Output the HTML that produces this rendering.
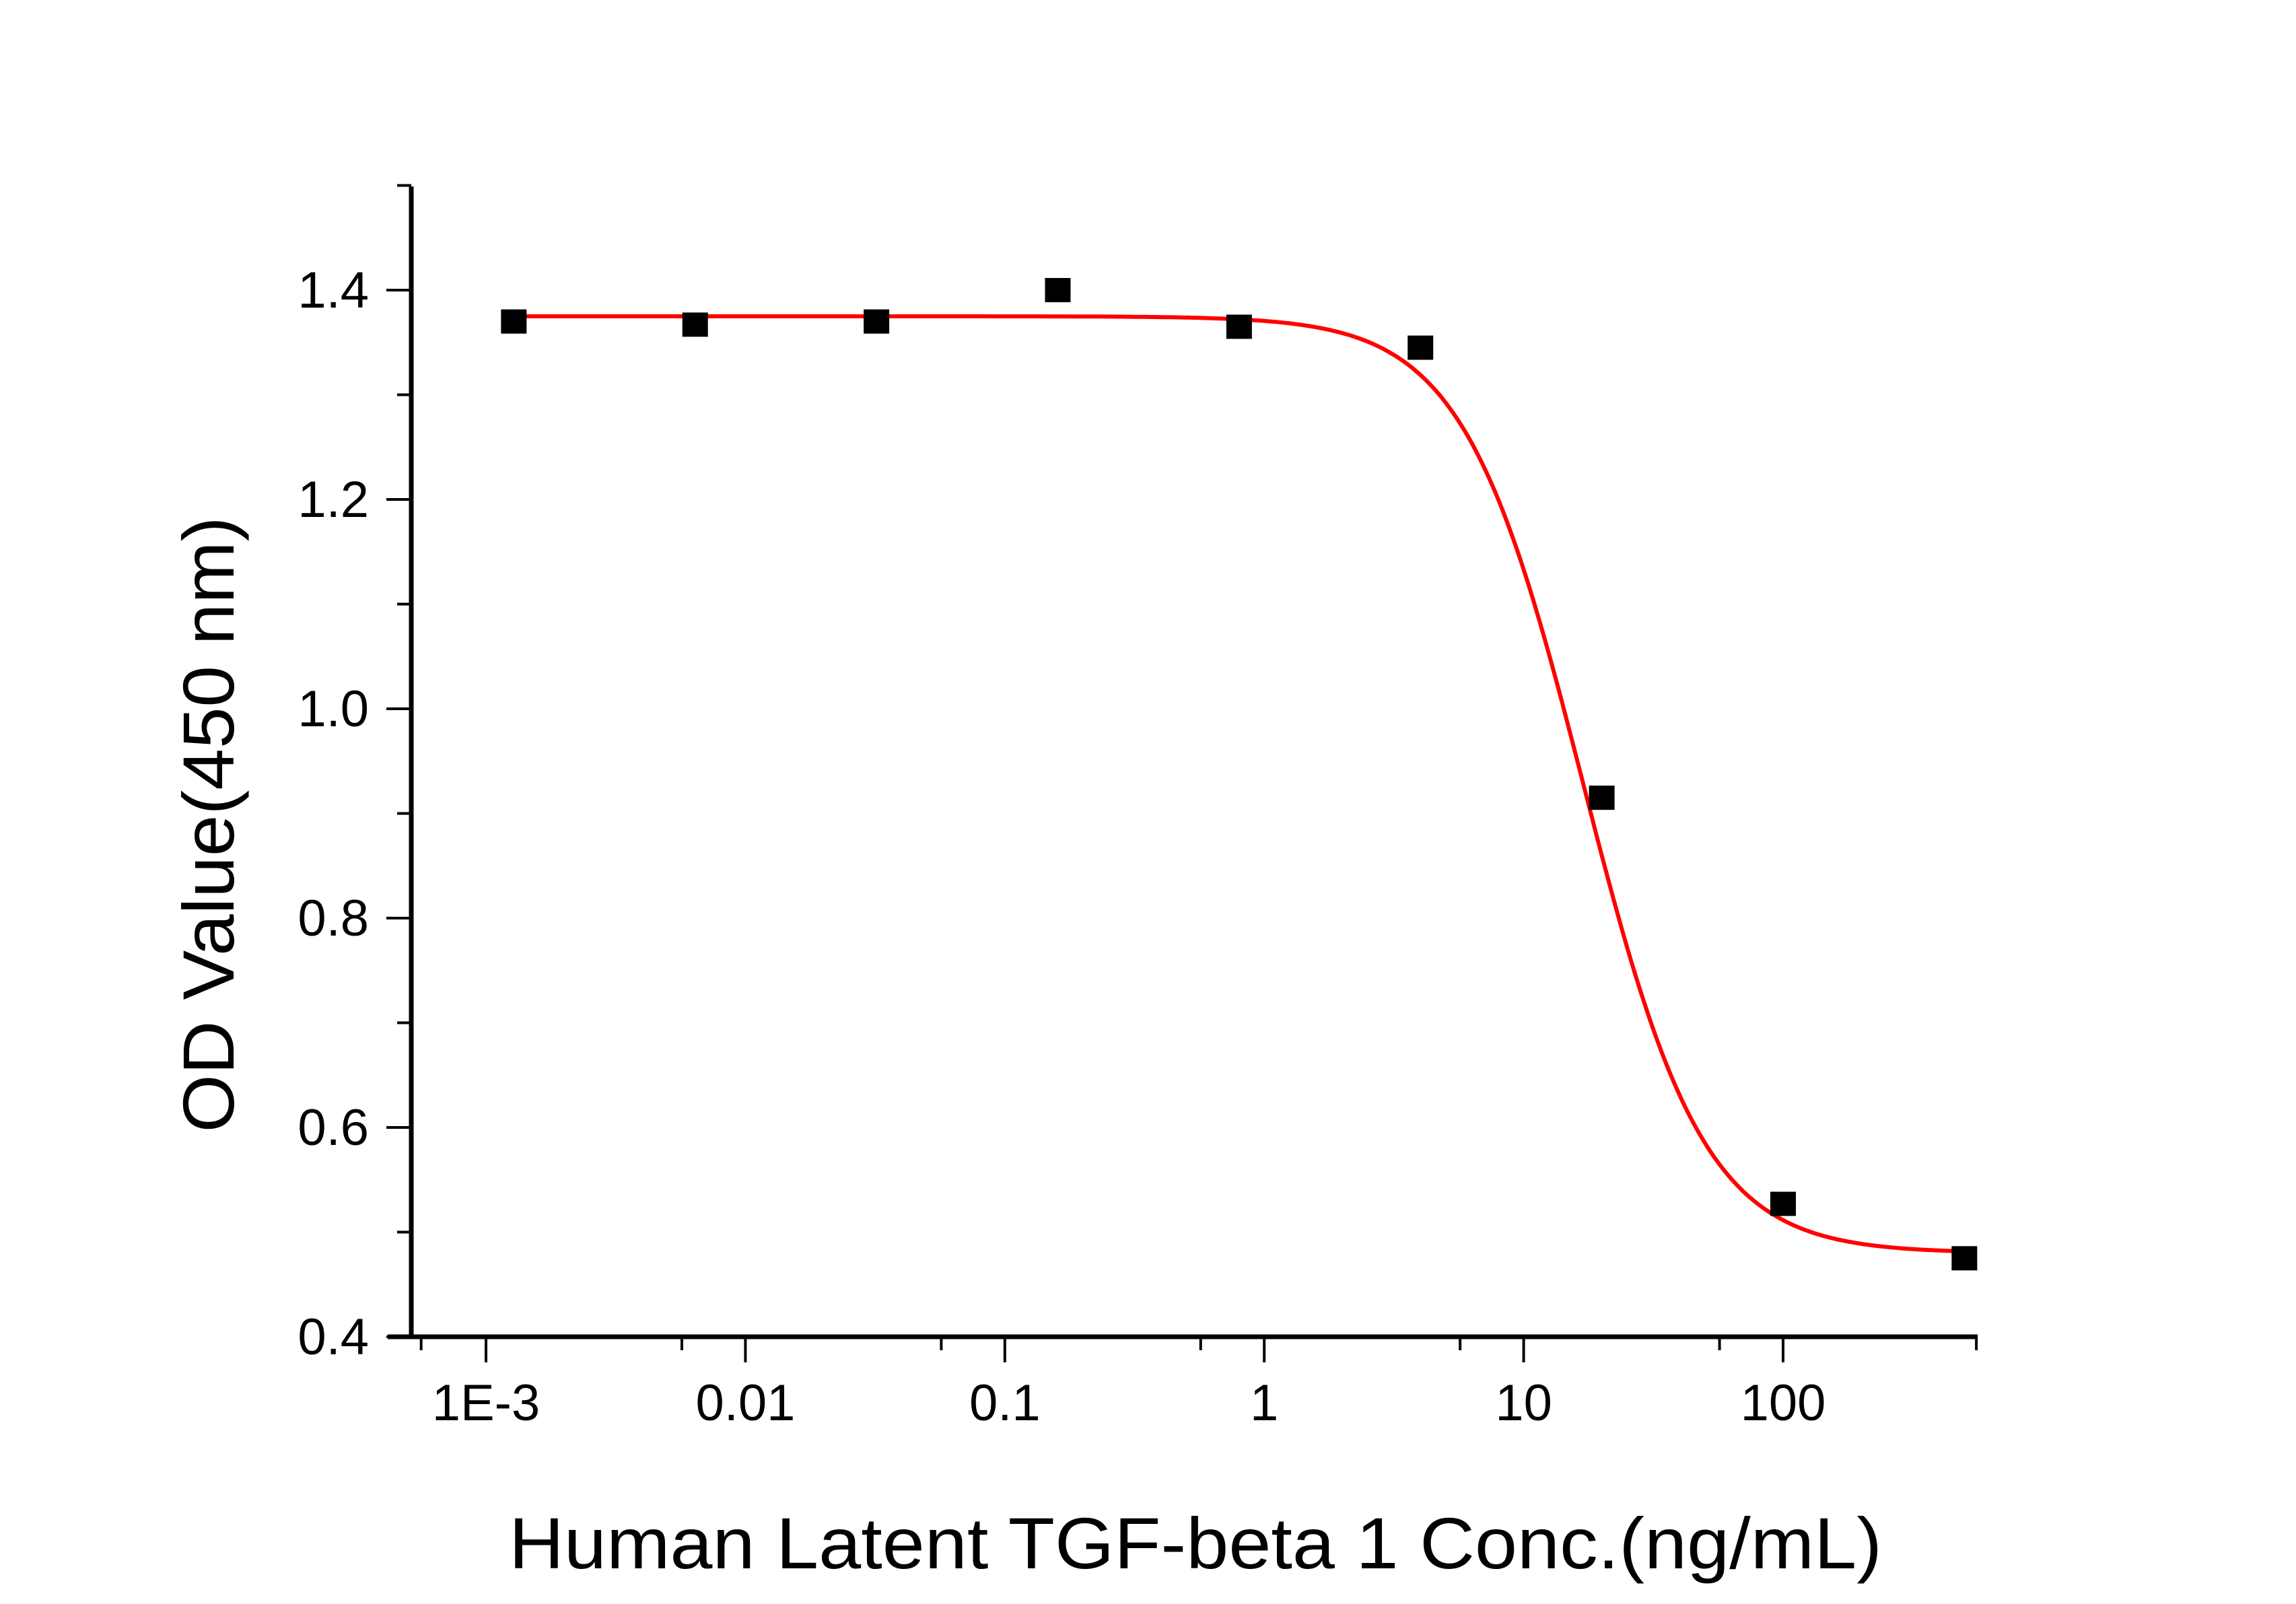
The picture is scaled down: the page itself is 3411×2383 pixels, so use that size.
<!DOCTYPE html>
<html><head><meta charset="utf-8"><style>
html,body{margin:0;padding:0;background:#fff;}
svg{display:block;font-family:"Liberation Sans",sans-serif;}
</style></head><body>
<svg id="chart" width="3411" height="2383" viewBox="0 0 3411 2383" xmlns="http://www.w3.org/2000/svg">
<rect width="3411" height="2383" fill="#fff"/>
<g id="axes"></g>
<g id="plot"></g>
<text transform="translate(347,1225) rotate(-90)" text-anchor="middle" font-size="108" textLength="915" lengthAdjust="spacingAndGlyphs">OD Value(450 nm)</text>
<text x="1776" y="2330" text-anchor="middle" font-size="108" textLength="2040" lengthAdjust="spacingAndGlyphs">Human Latent TGF-beta 1  Conc.(ng/mL)</text>
</svg>
<script>
const concentrations = [0.00128, 0.0064, 0.032, 0.16, 0.8, 4, 20, 100, 500];
const odValues = [1.370, 1.367, 1.370, 1.400, 1.365, 1.345, 0.915, 0.527, 0.475];
const fitTop = 1.375, fitBottom = 0.480, fitEC50 = 17, fitHill = 1.87;
const yTicks = [0.4, 0.6, 0.8, 1.0, 1.2, 1.4];
const yTickLabels = ["0.4", "0.6", "0.8", "1.0", "1.2", "1.4"];
const xTicks = [0.001, 0.01, 0.1, 1, 10, 100];
const xTickLabels = ["1E-3", "0.01", "0.1", "1", "10", "100"];

const NS = "http://www.w3.org/2000/svg";
const X0 = 722, DEC = 385.4, YB = 1986, Y04 = 0.4, PX02 = 311;
function xs(v){ return X0 + (Math.log10(v) + 3) * DEC; }
function ys(v){ return YB - (v - Y04) / 0.2 * PX02; }
function mk(tag, attrs, parent){ const e = document.createElementNS(NS, tag); for (const k in attrs) e.setAttribute(k, attrs[k]); parent.appendChild(e); return e; }
const axes = document.getElementById('axes'), plot = document.getElementById('plot');

let e;
e = mk('line', {x1:611, y1:277, x2:611, y2:YB+3, stroke:'#000','stroke-width':7}, axes);


e = mk('line', {x1:576, y1:YB, x2:2938, y2:YB, stroke:'#000','stroke-width':7}, axes);



yTicks.forEach((v, i) => {
  const y = ys(v);
  let t = mk('line', {x1:574, y1:y, x2:611, y2:y, stroke:'#000','stroke-width':4}, axes);
  
  
  let l = mk('text', {x:548, y:y+26, 'text-anchor':'end','font-size':76}, axes);
  l.textContent = yTickLabels[i];
  
  
  if (i < yTicks.length - 1) {
    const ym = ys(v + 0.1);
    let m = mk('line', {x1:590, y1:ym, x2:611, y2:ym, stroke:'#000','stroke-width':4}, axes);
    
    
  }
});
let tt = mk('line', {x1:590, y1:ys(1.5), x2:611, y2:ys(1.5), stroke:'#000','stroke-width':4}, axes);



xTicks.forEach((v, i) => {
  const x = xs(v);
  let t = mk('line', {x1:x, y1:YB, x2:x, y2:YB+38, stroke:'#000','stroke-width':4}, axes);
  
  
  let l = mk('text', {x:x, y:2110, 'text-anchor':'middle','font-size':76}, axes);
  l.textContent = xTickLabels[i];
  
  
});
[-3.25, -2.245, -1.245, -0.245, 0.755, 1.755, 2.745].forEach(lg => {
  const x = X0 + (lg + 3) * DEC;
  let m = mk('line', {x1:x, y1:YB, x2:x, y2:YB+20, stroke:'#000','stroke-width':4}, axes);
  
  
});

let d = '';
const lo = Math.log10(concentrations[0]), hi = Math.log10(concentrations[concentrations.length-1]);
for (let k = 0; k <= 400; k++) {
  const lg = lo + (hi - lo) * k / 400, c = Math.pow(10, lg);
  const v = fitBottom + (fitTop - fitBottom) / (1 + Math.pow(c / fitEC50, fitHill));
  d += (k ? 'L' : 'M') + xs(c).toFixed(1) + ' ' + ys(v).toFixed(1);
}
let p = mk('path', {d:d, fill:'none', stroke:'#ff0000', 'stroke-width':6}, plot);



concentrations.forEach((c, i) => {
  let r = mk('rect', {x:xs(c)-19, y:ys(odValues[i])-18, width:38, height:36, fill:'#000'}, plot);
  
  
});
</script>
</body></html>
